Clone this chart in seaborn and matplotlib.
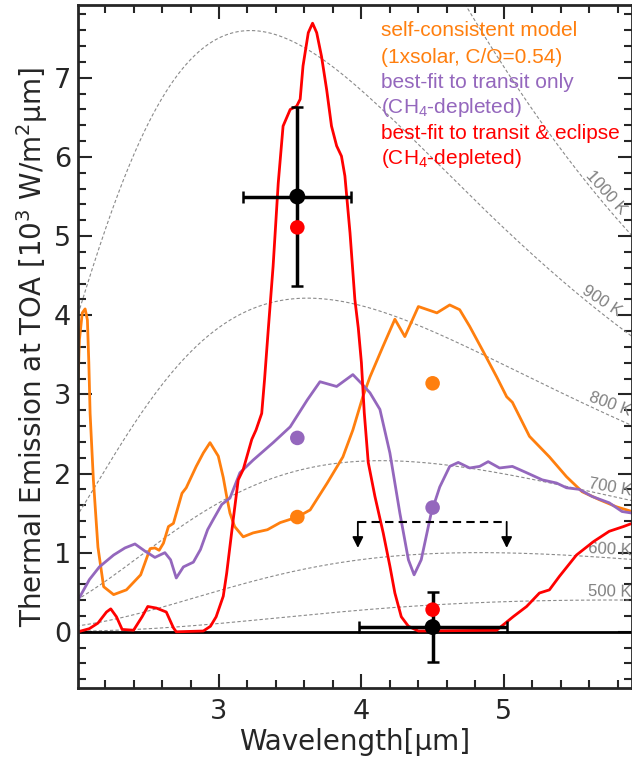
import numpy as np
import matplotlib
matplotlib.use("Agg")
import matplotlib.pyplot as plt
import seaborn as sns

# ---------------- data ----------------
# self-consistent model (orange)
orange_x = [2.01, 2.02, 2.04, 2.06, 2.076, 2.086, 2.095, 2.118, 2.15, 2.19, 2.26, 2.35, 2.45, 2.48,
            2.516, 2.55, 2.58, 2.61, 2.645, 2.68, 2.74, 2.77, 2.84, 2.89, 2.937, 2.995, 3.03, 3.054,
            3.077, 3.11, 3.17, 3.24, 3.34, 3.43, 3.55, 3.64, 3.76, 3.87, 3.94, 4.01, 4.06, 4.15,
            4.235, 4.305, 4.40, 4.53, 4.62, 4.69, 4.76, 4.85, 4.95, 5.02, 5.06, 5.18, 5.32, 5.44,
            5.55, 5.67, 5.79, 5.90]
orange_y = [3.15, 3.69, 4.03, 4.08, 3.94, 3.40, 2.76, 1.92, 1.07, 0.57, 0.47, 0.53, 0.72, 0.87,
            1.05, 1.06, 1.03, 1.12, 1.33, 1.37, 1.75, 1.82, 2.09, 2.26, 2.39, 2.22, 1.95, 1.71,
            1.50, 1.33, 1.20, 1.25, 1.29, 1.38, 1.45, 1.54, 1.88, 2.21, 2.55, 2.97, 3.22, 3.60,
            3.95, 3.73, 4.11, 4.03, 4.13, 4.07, 3.86, 3.56, 3.22, 2.97, 2.90, 2.47, 2.21, 1.96,
            1.77, 1.67, 1.58, 1.52]

# best-fit to transit only (purple)
purple_x = [2.01, 2.09, 2.16, 2.26, 2.34, 2.41, 2.48, 2.55, 2.62, 2.66, 2.70, 2.75, 2.82, 2.87,
            2.92, 2.96, 3.02, 3.077, 3.147, 3.24, 3.38, 3.50, 3.62, 3.709, 3.826, 3.94, 4.01, 4.06,
            4.13, 4.20, 4.27, 4.33, 4.37, 4.42, 4.49, 4.55, 4.62, 4.68, 4.76, 4.83, 4.89, 4.97,
            5.06, 5.16, 5.27, 5.37, 5.44, 5.53, 5.62, 5.74, 5.83, 5.90]
purple_y = [0.40, 0.66, 0.82, 0.97, 1.06, 1.11, 1.02, 0.94, 1.00, 0.91, 0.68, 0.82, 0.88, 1.04,
            1.29, 1.42, 1.61, 1.69, 2.01, 2.17, 2.39, 2.59, 2.93, 3.16, 3.10, 3.25, 3.12, 3.02,
            2.81, 2.26, 1.50, 0.91, 0.72, 0.91, 1.50, 1.83, 2.09, 2.14, 2.07, 2.09, 2.15, 2.07,
            2.09, 2.01, 1.92, 1.88, 1.82, 1.80, 1.71, 1.63, 1.52, 1.50]

# best-fit to transit & eclipse (red)
red_x = [2.01, 2.09, 2.15, 2.21, 2.24, 2.28, 2.32, 2.40, 2.46, 2.50, 2.56, 2.63, 2.68, 2.70, 2.89,
         2.94, 2.98, 3.03, 3.054, 3.10, 3.135, 3.17, 3.23, 3.26, 3.30, 3.32, 3.346, 3.38, 3.416,
         3.45, 3.50, 3.545, 3.57, 3.59, 3.627, 3.657, 3.686, 3.72, 3.756, 3.79, 3.826, 3.86,
         3.884, 3.92, 3.954, 3.978, 4.00, 4.02, 4.048, 4.095, 4.153, 4.20, 4.235, 4.28, 4.33,
         4.40, 4.95, 4.97, 5.065, 5.16, 5.25, 5.32, 5.39, 5.51, 5.63, 5.74, 5.84, 5.90]
red_y = [0.0, 0.04, 0.11, 0.25, 0.29, 0.19, 0.03, 0.02, 0.19, 0.32, 0.30, 0.25, 0.05, 0.0, 0.01,
         0.07, 0.19, 0.45, 0.74, 1.42, 1.92, 2.05, 2.43, 2.55, 2.76, 3.19, 3.82, 4.62, 5.67,
         6.39, 6.60, 6.64, 6.73, 7.15, 7.57, 7.69, 7.57, 7.27, 6.85, 6.39, 6.14, 6.01,
         5.76, 5.04, 4.20, 3.84, 3.40, 2.77, 2.14, 1.71, 1.25, 0.83, 0.49, 0.19, 0.07,
         0.01, 0.02, 0.05, 0.19, 0.32, 0.49, 0.53, 0.70, 0.97, 1.14, 1.27, 1.33, 1.37]

# band-integrated model points and observations
band_x = [3.55, 4.50]
orange_pts = [1.45, 3.14]
purple_pts = [2.45, 1.57]
red_pts = [5.11, 0.28]
obs_y = [5.50, 0.06]
obs_xerr = [0.38, 0.52]
obs_yerr = [1.13, 0.44]

# upper limit
ulim_x = [3.975, 5.02]
ulim_y = 1.39
ulim_tip = 1.06

# blackbody temperatures and their label positions
temps = [500, 600, 700, 800, 900, 1000]
temp_labels = ["500 K", "600 K", "700 K", "800 K", "900 K", "1000 K"]
temp_lab_x = [5.745, 5.745, 5.745, 5.745, 5.69, 5.72]
temp_lab_y = [0.51, 1.04, 1.83, 2.87, 4.18, 5.55]
temp_lab_rot = [1, 3, 10, 20, 33, 48]

legend_lines = ["self-consistent model", "(1xsolar, C/O=0.54)",
                "best-fit to transit only", "(CH$_4$-depleted)",
                "best-fit to transit & eclipse", "(CH$_4$-depleted)"]

C_OR = "#ff7f0e"
C_PU = "#9467bd"
C_RE = "#ff0000"
legend_colors = [C_OR, C_OR, C_PU, C_PU, C_RE, C_RE]

# ---------------- style ----------------
sns.set_style("ticks")
plt.rcParams['font.family'] = ['DejaVu Sans']
plt.rcParams['mathtext.default'] = 'regular'

fig = plt.figure(figsize=(6.32, 7.59), dpi=100)
ax = fig.add_axes([78 / 632, 1 - 688 / 759, (632 - 78) / 632, (688 - 5) / 759])

# blackbody curves (pi * B_lambda, in 10^3 W/m^2/um)
wl = np.linspace(2.0, 5.95, 400)
for T in temps:
    bb = 3.7418e8 / wl**5 / (np.exp(14388.0 / (wl * T)) - 1.0) / 1e3
    sns.lineplot(x=wl, y=bb, ax=ax, color="#8a8a8a", lw=0.8,
                 linestyle=(0, (3, 2)), estimator=None, sort=False, zorder=1)
for lab, lx, ly, rot in zip(temp_labels, temp_lab_x, temp_lab_y, temp_lab_rot):
    ax.text(lx, ly, lab, color="#808080", fontsize=12, rotation=-rot,
            ha="center", va="center", family=["Liberation Sans", "DejaVu Sans"], zorder=1)

ax.axhline(0, color="k", lw=2, zorder=2)

sns.lineplot(x=orange_x, y=orange_y, ax=ax, color=C_OR, lw=2, estimator=None, sort=False, zorder=2)
sns.lineplot(x=purple_x, y=purple_y, ax=ax, color=C_PU, lw=2, estimator=None, sort=False, zorder=2)
sns.lineplot(x=red_x, y=red_y, ax=ax, color=C_RE, lw=2, estimator=None, sort=False, zorder=2)

# observations error bars
ax.errorbar(band_x, obs_y, xerr=obs_xerr, yerr=obs_yerr, fmt="none", ecolor="k",
            elinewidth=2.5, capsize=4, capthick=1.8, zorder=3)

sns.scatterplot(x=band_x, y=orange_pts, ax=ax, color=C_OR, s=110, edgecolor="none", zorder=4)
sns.scatterplot(x=band_x, y=purple_pts, ax=ax, color=C_PU, s=110, edgecolor="none", zorder=4)
sns.scatterplot(x=band_x, y=red_pts, ax=ax, color=C_RE, s=110, edgecolor="none", zorder=4)
sns.scatterplot(x=band_x, y=obs_y, ax=ax, color="k", s=130, edgecolor="none", zorder=5)

# upper limit
ax.plot(ulim_x, [ulim_y, ulim_y], color="k", lw=1.5, linestyle=(0, (4, 2.5)), zorder=3)
for xx in ulim_x:
    ax.annotate("", xy=(xx, ulim_tip), xytext=(xx, ulim_y),
                arrowprops=dict(arrowstyle="-|>", color="k", lw=1.3, mutation_scale=16,
                                shrinkA=0, shrinkB=0), zorder=3)

# legend text
base_y = [7.522, 7.193, 6.877, 6.561, 6.233, 5.916]
for txt, col, yy in zip(legend_lines, legend_colors, base_y):
    ax.text(4.137, yy, txt, color=col, fontsize=15, ha="left", va="baseline",
            family=["Liberation Sans", "DejaVu Sans"])

ax.set_xlim(2.01, 5.9)
ax.set_ylim(-0.71, 7.92)
ax.set_xticks([3, 4, 5])
ax.set_yticks(range(0, 8))
ax.set_xticks(np.arange(2.2, 5.95, 0.2), minor=True)
ax.set_yticks(np.arange(-0.6, 7.95, 0.2), minor=True)
ax.tick_params(which="both", direction="in", top=True, right=True, width=1.5)
ax.tick_params(which="major", length=10, labelsize=19.5, pad=5)
ax.tick_params(which="minor", length=6)
ax.tick_params(axis="x", which="major", pad=8)
for s in ax.spines.values():
    s.set_linewidth(2)

ax.set_xlabel("Wavelength[µm]", fontsize=20, labelpad=2)
ax.set_ylabel("Thermal Emission at TOA [10$^3$ W/m$^2$µm]", fontsize=20, labelpad=3)

fig.savefig("out.png", dpi=100)
